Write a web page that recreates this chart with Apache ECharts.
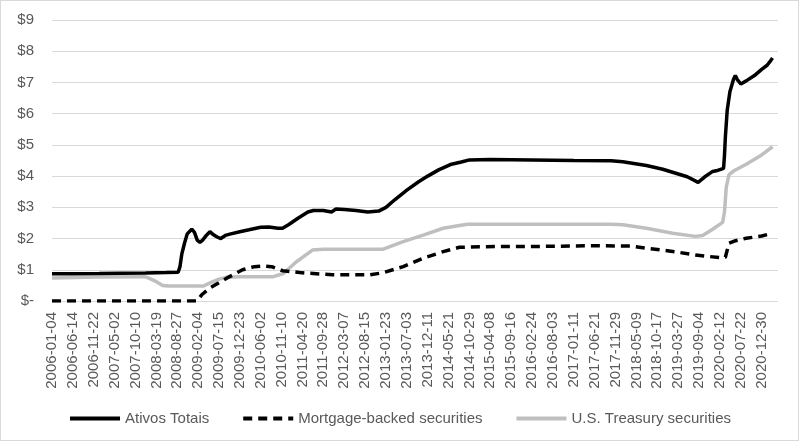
<!DOCTYPE html>
<html>
<head>
<meta charset="utf-8">
<script src="https://cdn.jsdelivr.net/npm/echarts@6/dist/echarts.min.js"></script>
<style>
html,body{margin:0;padding:0;background:#fff;}
#chart{width:799px;height:441px;box-sizing:border-box;border:1px solid #d9d9d9;}
</style>
</head>
<body>
<div id="chart"></div>
<script>
// Tick labels on the category (weekly) axis, one every 23 weeks
const tickLabels = ['2006-01-04','2006-06-14','2006-11-22','2007-05-02','2007-10-10','2008-03-19','2008-08-27','2009-02-04','2009-07-15','2009-12-23','2010-06-02','2010-11-10','2011-04-20','2011-09-28','2012-03-07','2012-08-15','2013-01-23','2013-07-03','2013-12-11','2014-05-21','2014-10-29','2015-04-08','2015-09-16','2016-02-24','2016-08-03','2017-01-11','2017-06-21','2017-11-29','2018-05-09','2018-10-17','2019-03-27','2019-09-04','2020-02-12','2020-07-22','2020-12-30'];
const yTicks = ['$-','$1','$2','$3','$4','$5','$6','$7','$8','$9'];
const seriesNames = ['Ativos Totais','Mortgage-backed securities','U.S. Treasury securities'];

// Values in trillions of dollars, [date, value]
const totalAssets = [
['2006-01-04',0.87],['2006-06-14',0.87],['2007-01-03',0.88],['2007-06-20',0.89],['2007-12-26',0.90],['2008-06-04',0.91],
['2008-09-03',0.92],['2008-09-17',1.10],['2008-10-01',1.50],['2008-10-22',1.85],['2008-11-12',2.15],['2008-12-17',2.30],
['2009-01-07',2.20],['2009-01-28',1.95],['2009-02-18',1.88],['2009-03-11',1.95],['2009-04-08',2.10],['2009-05-06',2.22],
['2009-06-03',2.12],['2009-07-01',2.05],['2009-07-29',2.00],['2009-09-02',2.10],['2009-10-14',2.15],['2009-12-23',2.22],
['2010-03-03',2.28],['2010-06-02',2.36],['2010-08-04',2.37],['2010-10-13',2.33],['2010-11-17',2.33],['2011-01-05',2.45],
['2011-03-16',2.65],['2011-06-01',2.85],['2011-07-13',2.90],['2011-09-28',2.90],['2011-11-30',2.85],['2012-01-04',2.95],
['2012-03-07',2.93],['2012-06-06',2.90],['2012-09-05',2.85],['2012-11-28',2.88],['2013-01-23',3.00],['2013-04-03',3.25],
['2013-07-03',3.55],['2013-10-02',3.82],['2013-12-11',4.00],['2014-03-05',4.20],['2014-06-04',4.37],['2014-08-27',4.45],
['2014-10-29',4.52],['2015-04-08',4.53],['2016-02-24',4.52],['2017-01-11',4.50],['2017-10-25',4.49],['2018-01-24',4.46],
['2018-07-25',4.34],['2018-11-28',4.22],['2019-06-05',3.98],['2019-08-28',3.80],['2019-09-11',3.86],['2019-10-16',3.97],
['2019-12-18',4.15],['2020-01-15',4.17],['2020-03-11',4.25],['2020-03-18',4.65],['2020-03-25',5.25],['2020-04-08',6.10],
['2020-04-29',6.70],['2020-05-27',7.10],['2020-06-10',7.22],['2020-06-24',7.10],['2020-07-22',6.95],['2020-09-02',7.05],
['2020-11-04',7.22],['2020-12-30',7.42],['2021-02-10',7.55],['2021-03-10',7.70],['2021-03-24',7.78]
];
const mbs = [
['2006-01-04',0],['2009-01-28',0],['2009-03-04',0.20],['2009-05-06',0.42],['2009-09-16',0.74],['2010-01-13',1.00],
['2010-04-14',1.10],['2010-06-16',1.12],['2010-08-25',1.10],['2010-11-17',0.97],['2011-03-30',0.91],['2011-12-07',0.84],
['2012-06-13',0.84],['2012-09-19',0.84],['2012-12-26',0.90],['2013-06-05',1.10],['2013-11-06',1.37],['2014-04-09',1.58],
['2014-08-13',1.72],['2015-01-14',1.74],['2016-06-01',1.75],['2017-06-21',1.77],['2018-03-21',1.76],['2018-07-25',1.69],
['2019-02-27',1.58],['2019-08-07',1.47],['2020-03-04',1.38],['2020-03-25',1.40],['2020-04-22',1.85],['2020-06-03',1.92],
['2020-09-02',2.01],['2020-12-30',2.08],['2021-03-24',2.17]
];
const treasury = [
['2006-01-04',0.74],['2006-12-27',0.77],['2007-12-19',0.78],['2008-01-16',0.74],['2008-03-19',0.62],['2008-05-07',0.50],
['2008-06-18',0.48],['2009-03-18',0.48],['2009-05-06',0.58],['2009-07-15',0.70],['2009-09-16',0.76],['2009-12-23',0.78],
['2010-09-08',0.78],['2010-11-24',0.88],['2011-03-02',1.25],['2011-07-06',1.63],['2011-09-28',1.66],['2012-06-06',1.66],
['2013-01-02',1.66],['2013-06-05',1.90],['2013-11-06',2.11],['2014-04-09',2.33],['2014-08-13',2.42],['2014-10-15',2.46],
['2017-10-25',2.46],['2018-01-24',2.44],['2018-07-25',2.33],['2019-02-13',2.17],['2019-08-07',2.07],['2019-10-02',2.10],
['2019-12-18',2.30],['2020-03-04',2.52],['2020-03-18',2.85],['2020-04-01',3.65],['2020-04-22',4.05],['2020-06-03',4.18],
['2020-09-02',4.38],['2020-12-30',4.68],['2021-03-24',4.94]
];

const START = Date.parse(tickLabels[0]);
const WEEK = 7 * 864e5;
const toWeek = d => (Date.parse(d) - START) / WEEK;
const conv = arr => arr.map(p => [toWeek(p[0]), p[1]]);

const font = 'Liberation Sans';
const chart = echarts.init(document.getElementById('chart'), null, {renderer: 'canvas'});
chart.setOption({
  animation: false,
  backgroundColor: '#fff',
  grid: {left: 51, right: 20, top: 19, bottom: 139},
  legend: {
    data: seriesNames,
    left: 'center', top: 405,
    itemWidth: 50, itemHeight: 14, itemGap: 32,
    itemStyle: {opacity: 0},
    lineStyle: {width: 4},
    textStyle: {color: '#595959', fontSize: 15, fontFamily: font}
  },
  xAxis: {
    type: 'value', min: 0, max: 800, interval: 23,
    axisLine: {show: false}, axisTick: {show: false}, splitLine: {show: false},
    axisLabel: {
      rotate: 90, margin: 11, color: '#595959', fontSize: 15, fontFamily: font,
      showMaxLabel: false, hideOverlap: false,
      formatter: v => (v % 23 === 0 && tickLabels[v / 23]) ? tickLabels[v / 23] : ''
    }
  },
  yAxis: {
    type: 'value', min: 0, max: 9, interval: 1,
    axisLine: {show: false}, axisTick: {show: false},
    splitLine: {lineStyle: {color: '#d9d9d9', width: 1}},
    axisLabel: {margin: 18, color: '#595959', fontSize: 15, fontFamily: font,
      formatter: v => yTicks[Math.round(v)]}
  },
  series: [
    {name: seriesNames[0], type: 'line', data: conv(totalAssets), symbol: 'none',
     lineStyle: {color: '#000', width: 3.5}, itemStyle: {color: '#000'}, z: 4},
    {name: seriesNames[1], type: 'line', data: conv(mbs), symbol: 'none',
     lineStyle: {color: '#000', width: 3.5, type: [9, 6]}, itemStyle: {color: '#000'}, z: 3},
    {name: seriesNames[2], type: 'line', data: conv(treasury), symbol: 'none',
     lineStyle: {color: '#bfbfbf', width: 3.5}, itemStyle: {color: '#bfbfbf'}, z: 2}
  ]
});
</script>
</body>
</html>
